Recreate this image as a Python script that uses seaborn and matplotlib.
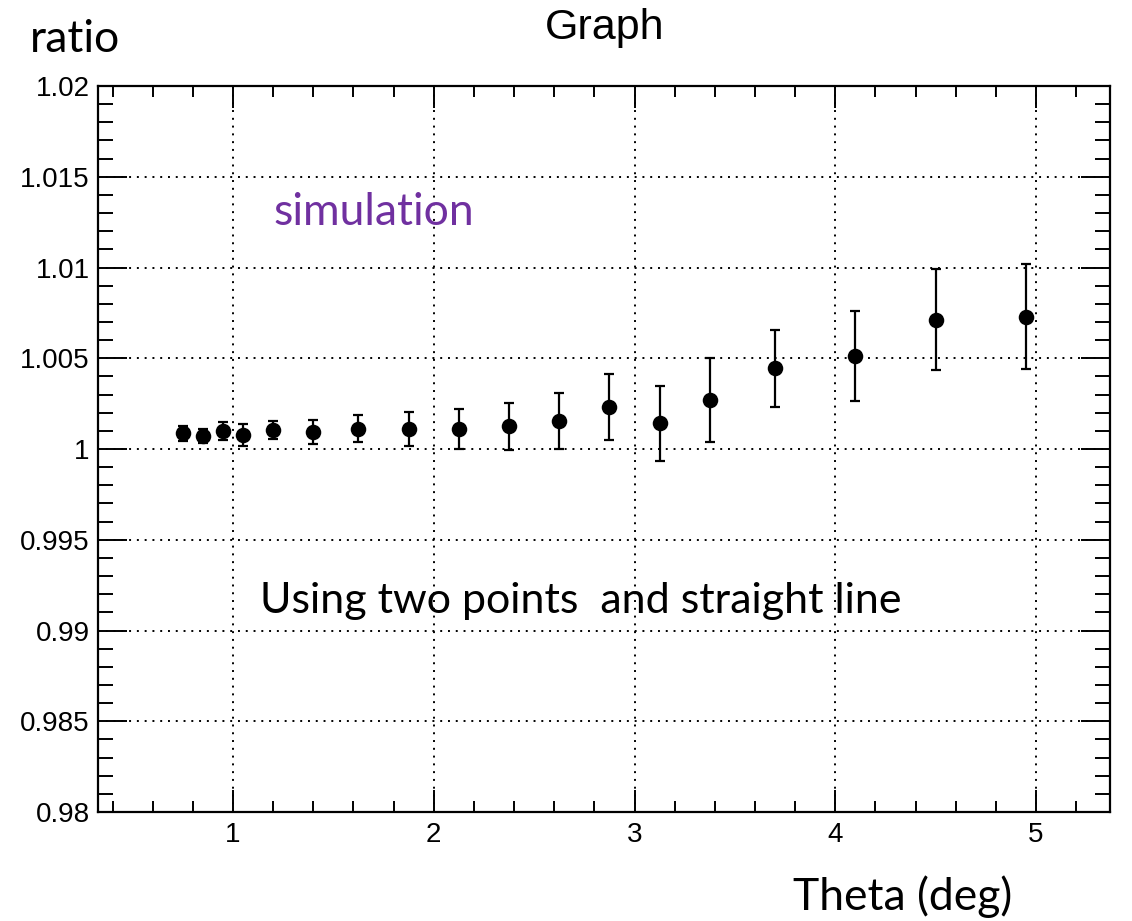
import numpy as np
import pandas as pd
import matplotlib
matplotlib.use("Agg")
import matplotlib.pyplot as plt
import seaborn as sns
from matplotlib.ticker import MultipleLocator, FuncFormatter

# ---- data ----
theta = [0.75, 0.85, 0.95, 1.05, 1.20, 1.40, 1.625, 1.875, 2.125,
         2.375, 2.625, 2.875, 3.125, 3.375, 3.70, 4.10, 4.50, 4.95]
ratio = [1.00086, 1.00072, 1.00100, 1.00077, 1.00104, 1.00095, 1.00112, 1.00112, 1.00108,
         1.00126, 1.00156, 1.00231, 1.00141, 1.00269, 1.00445, 1.00511, 1.00713, 1.00729]
ratio_err = [0.00040, 0.00040, 0.00050, 0.00060, 0.00050, 0.00067, 0.00075, 0.00093, 0.00110,
             0.00130, 0.00155, 0.00183, 0.00206, 0.00230, 0.00212, 0.00247, 0.00277, 0.00288]

x_major = [1, 2, 3, 4, 5]
y_major = [0.98, 0.985, 0.99, 0.995, 1.0, 1.005, 1.01, 1.015, 1.02]

df = pd.DataFrame({"theta": theta, "ratio": ratio, "err": ratio_err})

sns.set_theme(style="ticks")
plt.rcParams["font.family"] = ["Liberation Sans", "DejaVu Sans"]
plt.rcParams["text.color"] = "black"
plt.rcParams["xtick.color"] = "black"
plt.rcParams["ytick.color"] = "black"

fig = plt.figure(figsize=(11.32, 9.21), dpi=100)
ax = fig.add_axes([98 / 1132, 1 - 812 / 921, (1110 - 98) / 1132, (812 - 86) / 921])

ax.errorbar(df["theta"], df["ratio"], yerr=df["err"], fmt="none",
            ecolor="black", elinewidth=1.6, capsize=3.5, capthick=1.6, zorder=3)
sns.scatterplot(data=df, x="theta", y="ratio", ax=ax, color="black", s=125,
                edgecolor="black", linewidth=0, zorder=4, legend=False)

ax.set_xlim(0.3275, 5.3686)
ax.set_ylim(0.98, 1.02)
ax.set_xticks(x_major)
ax.set_yticks(y_major)
ax.xaxis.set_minor_locator(MultipleLocator(0.2))
ax.yaxis.set_minor_locator(MultipleLocator(0.001))
ax.yaxis.set_major_formatter(FuncFormatter(lambda v, p: f"{v:g}"))
ax.xaxis.set_major_formatter(FuncFormatter(lambda v, p: f"{v:g}"))

ax.grid(True, which="major", color="black", linestyle=(0, (1, 3)), linewidth=1.4)
ax.set_axisbelow(True)

ax.tick_params(axis="both", which="both", direction="in", top=True, right=True,
               colors="black", labelcolor="black", labelsize=20, width=1.4)
ax.tick_params(axis="y", which="major", length=21, pad=6)
ax.tick_params(axis="y", which="minor", length=10.5)
ax.tick_params(axis="x", which="major", length=16, pad=7)
ax.tick_params(axis="x", which="minor", length=8)

for sp in ax.spines.values():
    sp.set_visible(True)
    sp.set_linewidth(1.6)
    sp.set_color("black")

ax.set_xlabel("")
ax.set_ylabel("")

lato = ["Lato", "DejaVu Sans"]
fig.text(30 / 1132, 1 - 52 / 921, "ratio", fontsize=32, family=lato, color="black",
         va="baseline", ha="left")
fig.text(605 / 1132, 1 - 39 / 921, "Graph", fontsize=31, color="black",
         va="baseline", ha="center")
fig.text(273 / 1132, 1 - 225 / 921, "simulation", fontsize=32, family=lato,
         color="#7030A0", va="baseline", ha="left")
fig.text(260 / 1132, 1 - 613 / 921, "Using two points  and straight line", fontsize=31,
         family=lato, color="black", va="baseline", ha="left")
fig.text(793 / 1132, 1 - 910 / 921, "Theta (deg)", fontsize=32, family=lato,
         color="black", va="baseline", ha="left")

fig.savefig("out.png", dpi=100, facecolor="white")
